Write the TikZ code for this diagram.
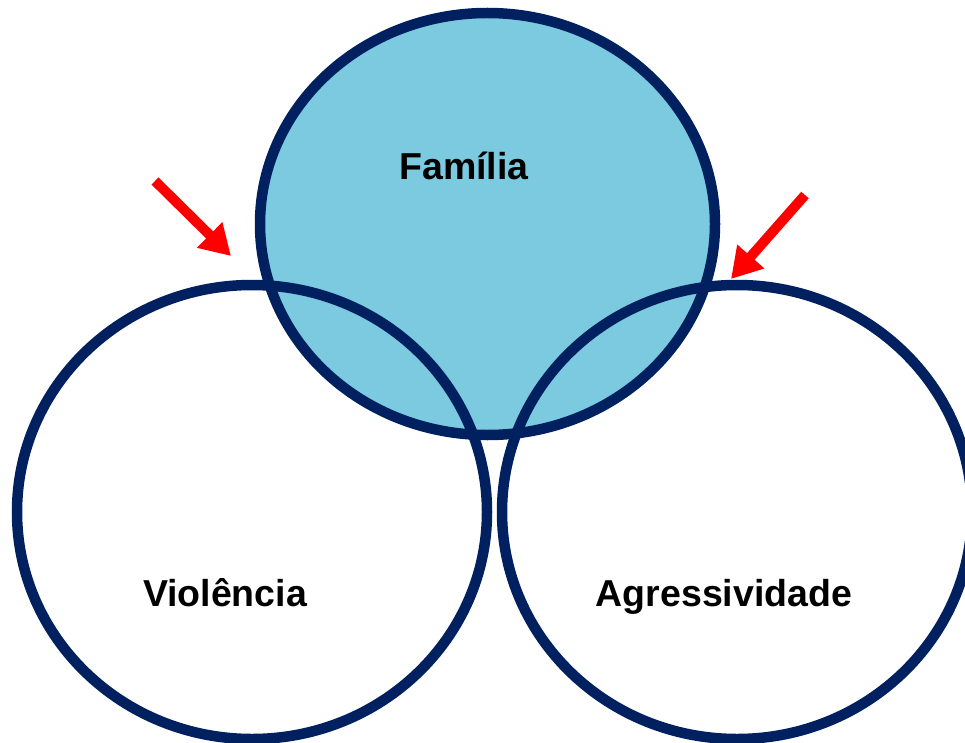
\documentclass[tikz,border=0pt]{standalone}
\usepackage{fontspec}
\setmainfont{Liberation Sans}
\usetikzlibrary{arrows.meta}
\definecolor{navy}{RGB}{0,32,96}
\definecolor{lblue}{RGB}{123,202,224}
\definecolor{redarrow}{RGB}{255,0,0}
\tikzset{
  ring/.style={draw=navy, line width=10.5pt},
  lbl/.style={font=\fontsize{37.5}{42}\selectfont\bfseries, text=black, inner sep=0pt, anchor=base},
  redarr/.style={draw=redarrow, line width=10pt, -{Triangle[width=34pt,length=30pt]}}
}
\begin{document}
\begin{tikzpicture}[x=1pt,y=-1pt]
\useasboundingbox (0,0) rectangle (965,743);
\begin{scope}
\clip (0,0) rectangle (965,743);
\fill[lblue] (487.5,224) ellipse [x radius=227.5, y radius=211];
\draw[ring] (487.5,224) ellipse [x radius=227.5, y radius=211];
\draw[ring] (252,512) ellipse [x radius=235, y radius=227];
\draw[ring] (737,512) ellipse [x radius=235, y radius=227];
\end{scope}
\node[lbl] (fam) at (464,180) {Família};
\node[lbl] (vio) at (225,606) {Violência};
\node[lbl] (agr) at (724,606) {Agressividade};
\coordinate (a1s) at (155,181);
\coordinate (a1e) at (231,256);
\coordinate (a2s) at (805,195);
\coordinate (a2e) at (731,279);
\draw[redarr] (a1s) -- (a1e);
\draw[redarr] (a2s) -- (a2e);
\end{tikzpicture}
\end{document}
